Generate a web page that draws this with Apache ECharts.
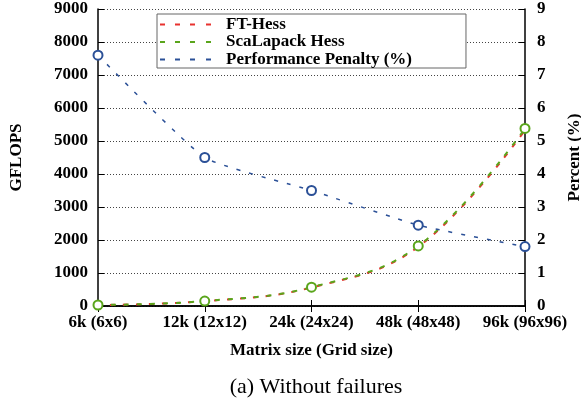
<!DOCTYPE html>
<html>
<head>
<meta charset="utf-8">
<script src="https://cdn.jsdelivr.net/npm/echarts@6/dist/echarts.min.js"></script>
<style>
html,body{margin:0;padding:0;background:#fff;}
#chart{width:581px;height:403px;}
</style>
</head>
<body>
<div id="chart"></div>
<script>
const categories = ['6k (6x6)', '12k (12x12)', '24k (24x24)', '48k (48x48)', '96k (96x96)'];
const ftHess = [29, 146, 560, 1795, 5330];
const scalapackHess = [30, 150, 570, 1820, 5380];
const penalty = [7.6, 4.5, 3.5, 2.45, 1.8];
const leftTicks = [0, 9000, 1000];
const rightTicks = [0, 9, 1];

const FONT = '"Liberation Serif", "DejaVu Serif", serif';
const RED = '#e8322f', GREEN = '#5aa51c', BLUE = '#2b5097';
const dashIcon = 'path://M0,0h5v2h-5z M15,0h5v2h-5z M30,0h5v2h-5z M46,0h5v2h-5z';

const chart = echarts.init(document.getElementById('chart'), null, {renderer: 'canvas'});
const boldLabel = {fontFamily: FONT, fontWeight: 'bold', fontSize: 17, color: '#000'};
const plain = v => String(v);

chart.setOption({
  animation: false,
  backgroundColor: '#fff',
  grid: {left: 98, right: 56, top: 9, bottom: 97, containLabel: false, outerBoundsMode: 'none'},
  title: {
    text: '(a) Without failures',
    left: 311, textAlign: 'center', top: 371,
    textStyle: {fontFamily: FONT, fontWeight: 'normal', fontSize: 22, color: '#000'}
  },
  legend: {
    orient: 'vertical',
    left: 157, top: 14,
    backgroundColor: '#fff',
    borderColor: '#666', borderWidth: 1,
    padding: [2, 54, 0, 3],
    itemWidth: 51, itemHeight: 2, itemGap: 0.5,
    symbolKeepAspect: false,
    itemStyle: {borderWidth: 0},
    textStyle: {fontFamily: FONT, fontWeight: 'bold', fontSize: 17, lineHeight: 16.5, color: '#000', padding: [0, 0, 0, 10]},
    data: [
      {name: 'FT-Hess', icon: dashIcon},
      {name: 'ScaLapack Hess', icon: dashIcon},
      {name: 'Performance Penalty (%)', icon: dashIcon}
    ],
    z: 10
  },
  xAxis: [{
    type: 'category', data: categories, boundaryGap: false,
    name: 'Matrix size (Grid size)', nameLocation: 'middle', nameGap: 36,
    nameTextStyle: boldLabel,
    axisLine: {lineStyle: {color: '#000', width: 1.5}},
    axisTick: {inside: true, length: 6, interval: 0, lineStyle: {color: '#000'}},
    axisLabel: Object.assign({margin: 8, interval: 0}, boldLabel),
    splitLine: {show: false}
  }, {
    type: 'category', data: categories, boundaryGap: false, position: 'top',
    axisLine: {lineStyle: {color: '#000', width: 1.5}},
    axisTick: {inside: true, length: 6, interval: 0, lineStyle: {color: '#000'}},
    axisLabel: {show: false}, splitLine: {show: false}
  }],
  yAxis: [{
    type: 'value', min: leftTicks[0], max: leftTicks[1], interval: leftTicks[2],
    name: 'GFLOPS', nameLocation: 'middle', nameGap: 73,
    nameTextStyle: boldLabel,
    axisLine: {show: true, lineStyle: {color: '#000', width: 1.5}},
    axisTick: {show: true, inside: true, length: 6, lineStyle: {color: '#000'}},
    axisLabel: Object.assign({margin: 10, formatter: plain}, boldLabel),
    splitLine: {show: true, lineStyle: {color: '#444', type: [1, 2], width: 1}}
  }, {
    type: 'value', min: rightTicks[0], max: rightTicks[1], interval: rightTicks[2],
    position: 'right',
    name: 'Percent (%)', nameLocation: 'middle', nameGap: 41, nameRotate: 90,
    nameTextStyle: boldLabel,
    axisLine: {show: true, lineStyle: {color: '#000', width: 1.5}},
    axisTick: {show: true, inside: true, length: 6, lineStyle: {color: '#000'}},
    axisLabel: Object.assign({margin: 12, formatter: plain}, boldLabel),
    splitLine: {show: false}
  }],
  series: [{
    name: 'FT-Hess', type: 'line', data: ftHess, smooth: 0.4,
    xAxisIndex: 0, yAxisIndex: 0,
    color: RED, showSymbol: false, symbol: 'none',
    lineStyle: {color: RED, width: 2, type: [5, 8], dashOffset: 1}, z: 2
  }, {
    name: 'ScaLapack Hess', type: 'line', data: scalapackHess, smooth: 0.4,
    xAxisIndex: 0, yAxisIndex: 0,
    color: GREEN, symbol: 'emptyCircle', symbolSize: 9,
    itemStyle: {color: GREEN, borderColor: GREEN, borderWidth: 2},
    lineStyle: {color: GREEN, width: 2, type: [5, 8]}, z: 3
  }, {
    name: 'Performance Penalty (%)', type: 'line', data: penalty, smooth: 0.15,
    xAxisIndex: 0, yAxisIndex: 1,
    color: BLUE, symbol: 'emptyCircle', symbolSize: 9,
    itemStyle: {color: BLUE, borderColor: BLUE, borderWidth: 2},
    lineStyle: {color: BLUE, width: 1.5, type: [4, 9]}, z: 3
  }]
});
</script>
</body>
</html>
